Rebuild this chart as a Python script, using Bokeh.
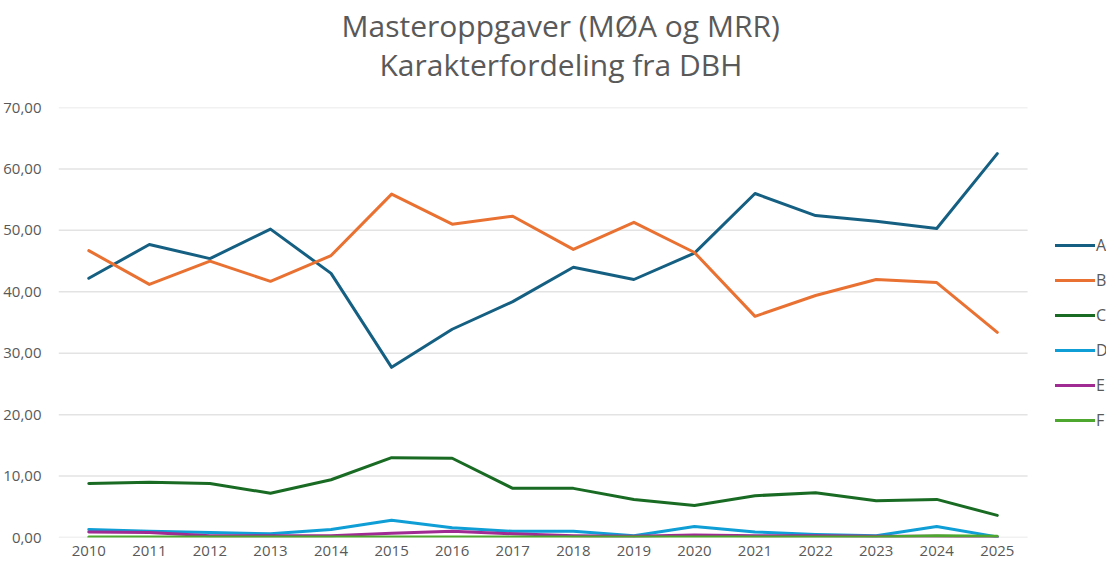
from bokeh.plotting import figure
from bokeh.models import Legend, LegendItem, FixedTicker, Title, Range1d, LinearAxis
from bokeh.embed import file_html
from bokeh.resources import INLINE

years = list(range(2010, 2026))
grade_a = [42.2, 47.7, 45.4, 50.2, 43.0, 27.7, 33.9, 38.4, 44.0, 42.0, 46.3, 56.0, 52.4, 51.5, 50.3, 62.5]
grade_b = [46.7, 41.2, 45.0, 41.7, 45.9, 55.9, 51.0, 52.3, 46.9, 51.3, 46.4, 36.0, 39.4, 42.0, 41.5, 33.4]
grade_c = [8.8, 9.0, 8.8, 7.2, 9.4, 13.0, 12.9, 8.0, 8.0, 6.2, 5.2, 6.8, 7.3, 6.0, 6.2, 3.6]
grade_d = [1.3, 1.0, 0.8, 0.6, 1.3, 2.8, 1.6, 1.0, 1.0, 0.3, 1.8, 0.9, 0.5, 0.3, 1.8, 0.1]
grade_e = [0.9, 0.8, 0.3, 0.3, 0.3, 0.7, 1.0, 0.6, 0.3, 0.2, 0.4, 0.3, 0.3, 0.2, 0.2, 0.1]
grade_f = [0.1, 0.1, 0.1, 0.1, 0.1, 0.1, 0.1, 0.1, 0.1, 0.1, 0.1, 0.1, 0.1, 0.1, 0.3, 0.2]
series_names = ["A", "B", "C", "D", "E", "F"]
series_values = [grade_a, grade_b, grade_c, grade_d, grade_e, grade_f]
colors = ["#156082", "#E97132", "#196B24", "#0F9ED5", "#A02B93", "#4EA72E"]
y_ticks = [0, 10, 20, 30, 40, 50, 60, 70]
y_tick_labels = ["0,00", "10,00", "20,00", "30,00", "40,00", "50,00", "60,00", "70,00"]
title_line1 = "Masteroppgaver (MØA og MRR)"
title_line2 = "Karakterfordeling fra DBH"

FONT = "Open Sans"
GREY = "#595959"

# plot area spans half a category either side of the years; extra room on the right holds the legend
X_START = years[0] - 0.5
X_PLOT_END = years[-1] + 0.5
PX_PER_YEAR = 970 / 16.0
FRAME_W = 1106 - 57
X_END = X_START + FRAME_W / PX_PER_YEAR

p = figure(width=1106, height=558, output_backend="svg", toolbar_location=None,
           x_range=Range1d(X_START, X_END), y_range=Range1d(y_ticks[0], y_ticks[-1]),
           min_border_left=57, min_border_right=0, min_border_bottom=0, min_border_top=0)
p.outline_line_color = None
p.background_fill_color = "white"
p.border_fill_color = "white"

# horizontal gridlines limited to the plot area
p.segment(x0=[X_START] * len(y_ticks), x1=[X_PLOT_END] * len(y_ticks), y0=y_ticks, y1=y_ticks,
          line_color="#e3e3e3", line_width=1.5)

items = []
for name, vals, c in zip(series_names, series_values, colors):
    r = p.line(years, vals, line_color=c, line_width=3, line_join="round", line_cap="round")
    items.append(LegendItem(label=name, renderers=[r]))

legend = Legend(items=items, location=(997, 106), orientation="vertical",
                glyph_width=40, glyph_height=22, label_height=22, spacing=13,
                label_standoff=1, padding=0, margin=0,
                label_text_font=FONT, label_text_font_size="16px", label_text_color=GREY,
                border_line_color=None, background_fill_alpha=0)
p.add_layout(legend, "center")

xaxis = p.xaxis[0]
yaxis = p.yaxis[0]
yaxis.ticker = FixedTicker(ticks=y_ticks)
yaxis.major_label_overrides = {t: l for t, l in zip(y_ticks, y_tick_labels)}
xaxis.ticker = FixedTicker(ticks=years)
for ax in (xaxis, yaxis):
    ax.axis_line_color = None
    ax.major_tick_line_color = None
    ax.minor_tick_line_color = None
    ax.major_tick_out = 0
    ax.major_label_text_font = FONT
    ax.major_label_text_font_size = "15px"
    ax.major_label_text_color = GREY
yaxis.major_label_standoff = 17
xaxis.major_label_standoff = 8

p.xgrid.grid_line_color = None
p.ygrid.grid_line_color = None

# invisible spacer between the plot area and the two title lines
spacer = LinearAxis(ticker=FixedTicker(ticks=[X_START]), major_label_overrides={X_START: ""},
                    major_tick_out=29, major_tick_in=0,
                    major_tick_line_color=None, minor_tick_line_color=None,
                    axis_line_color=None, major_label_text_font_size="1px",
                    major_label_standoff=0)
p.add_layout(spacer, "above")

t2 = Title(text=title_line2, align="left", text_font=FONT, text_font_size="30px",
           text_font_style="normal", text_color=GREY, offset=321, standoff=-13)
t1 = Title(text=title_line1, align="left", text_font=FONT, text_font_size="30px",
           text_font_style="normal", text_color=GREY, offset=283, standoff=5)
p.add_layout(t2, "above")
p.add_layout(t1, "above")

open("out.html", "w").write(file_html(p, INLINE))
